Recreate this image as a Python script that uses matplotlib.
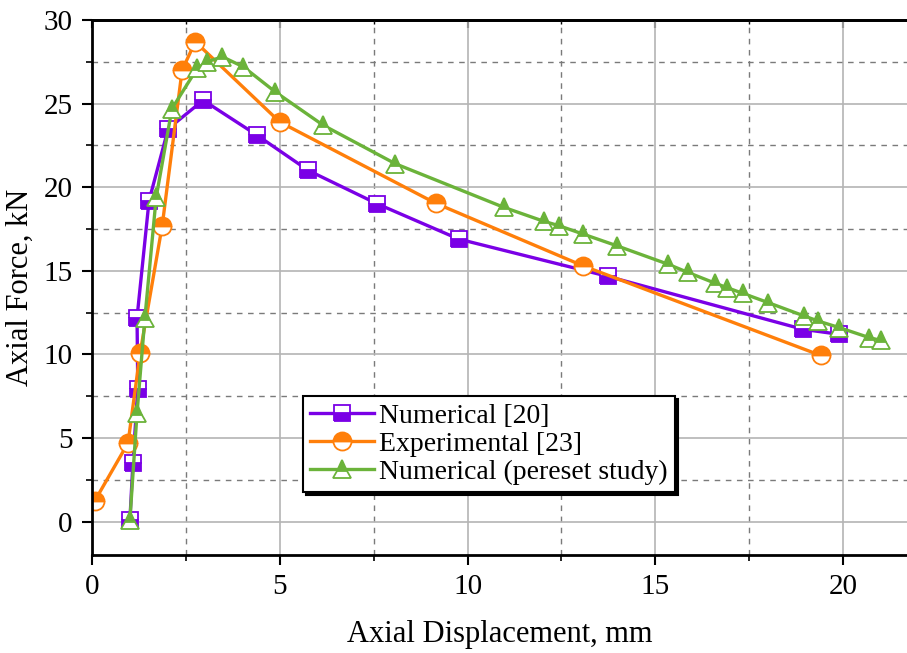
import numpy as np
import matplotlib
matplotlib.use("Agg")
from matplotlib import pyplot as plt
from matplotlib.ticker import MultipleLocator

plt.rcParams['font.family'] = ['Liberation Serif', 'DejaVu Serif']
plt.rcParams['font.serif'] = ['Liberation Serif']

# Numerical [20]
num20_x = [1.01, 1.09, 1.22, 1.20, 1.52, 2.03, 2.96, 4.40, 5.76, 7.60, 9.76, 13.73, 18.93, 19.90]
num20_y = [0.1, 3.5, 7.96, 12.2, 19.2, 23.5, 25.2, 23.1, 21.0, 19.0, 16.9, 14.67, 11.5, 11.2]

# Experimental [23]
exp_x = [0.08, 0.96, 1.28, 1.87, 2.40, 2.75, 5.00, 9.15, 13.07, 19.40]
exp_y = [1.26, 4.7, 10.06, 17.7, 27.0, 28.7, 23.9, 19.04, 15.3, 9.94]

# Numerical (present study)
pres_x = [1.01, 1.20, 1.41, 1.71, 2.13, 2.80, 3.07, 3.47, 4.03, 4.88, 6.16, 8.08,
          10.96, 12.03, 12.43, 13.07, 13.97, 15.33, 15.87, 16.60, 16.90, 17.33,
          18.00, 18.96, 19.33, 19.90, 20.70, 21.00]
pres_y = [0.1, 6.5, 12.2, 19.4, 24.7, 27.1, 27.5, 27.8, 27.2, 25.7, 23.7, 21.4,
          18.8, 17.96, 17.7, 17.2, 16.5, 15.4, 14.9, 14.25, 14.0, 13.65,
          13.1, 12.3, 12.0, 11.6, 11.0, 10.84]

purple = '#7A00E6'
orange = '#FF7F0A'
green = '#6BB33A'

fig = plt.figure(figsize=(9.07, 6.53), dpi=100)
ax = fig.add_axes([0.1014, 0.150, 0.8986, 0.8194])

ax.plot(num20_x, num20_y, color=purple, lw=2.4, marker='s', ms=11,
        fillstyle='bottom', markerfacecolor=purple, markerfacecoloralt='white',
        markeredgecolor=purple, markeredgewidth=1.3, label='Numerical [20]')
ax.plot(exp_x, exp_y, color=orange, lw=2.4, marker='o', ms=13,
        fillstyle='top', markerfacecolor=orange, markerfacecoloralt='white',
        markeredgecolor=orange, markeredgewidth=1.3, label='Experimental [23]')
ax.plot(pres_x, pres_y, color=green, lw=2.4, marker='^', ms=13,
        fillstyle='top', markerfacecolor=green, markerfacecoloralt='white',
        markeredgecolor=green, markeredgewidth=1.3, label='Numerical (pereset study)')

ax.set_xlim(0, 21.7)
ax.set_ylim(-2, 30)
ax.xaxis.set_major_locator(MultipleLocator(5))
ax.xaxis.set_minor_locator(MultipleLocator(2.5))
ax.yaxis.set_major_locator(MultipleLocator(5))
ax.yaxis.set_minor_locator(MultipleLocator(2.5))

ax.grid(which='major', color='#b4b4b4', lw=1.2, ls='-')
ax.grid(which='minor', color='#7a7a7a', lw=1.0, ls=(0, (4, 4)))
ax.set_axisbelow(True)

for s in ['left', 'bottom', 'top']:
    ax.spines[s].set_linewidth(2)
ax.spines['right'].set_visible(False)

ax.tick_params(which='major', direction='out', length=7, width=1.5, labelsize=21, pad=7)
ax.tick_params(which='minor', direction='out', length=4, width=1.2)
for lab in ax.get_xticklabels() + ax.get_yticklabels():
    lab.set_fontfamily('Liberation Serif')

top = ax.secondary_xaxis('top')
top.xaxis.set_major_locator(MultipleLocator(5))
top.xaxis.set_minor_locator(MultipleLocator(2.5))
top.tick_params(which='major', direction='in', length=6, width=1.5, labeltop=False)
top.tick_params(which='minor', direction='in', length=3, width=1.0)
top.spines['top'].set_linewidth(2)

ax.set_xlabel('Axial Displacement, mm', fontsize=22, labelpad=14)
ax.set_ylabel('Axial Force, kN', fontsize=22, labelpad=6)

leg = ax.legend(loc='lower left', bbox_to_anchor=(0.259, 0.118), borderaxespad=0,
                fontsize=20, handlelength=2.3, handletextpad=0.2, labelspacing=0.1,
                borderpad=0.25, fancybox=False, framealpha=1, edgecolor='black',
                shadow={'color': 'black', 'alpha': 1})
leg.get_frame().set_linewidth(1.5)

fig.savefig('out.png', dpi=100)
